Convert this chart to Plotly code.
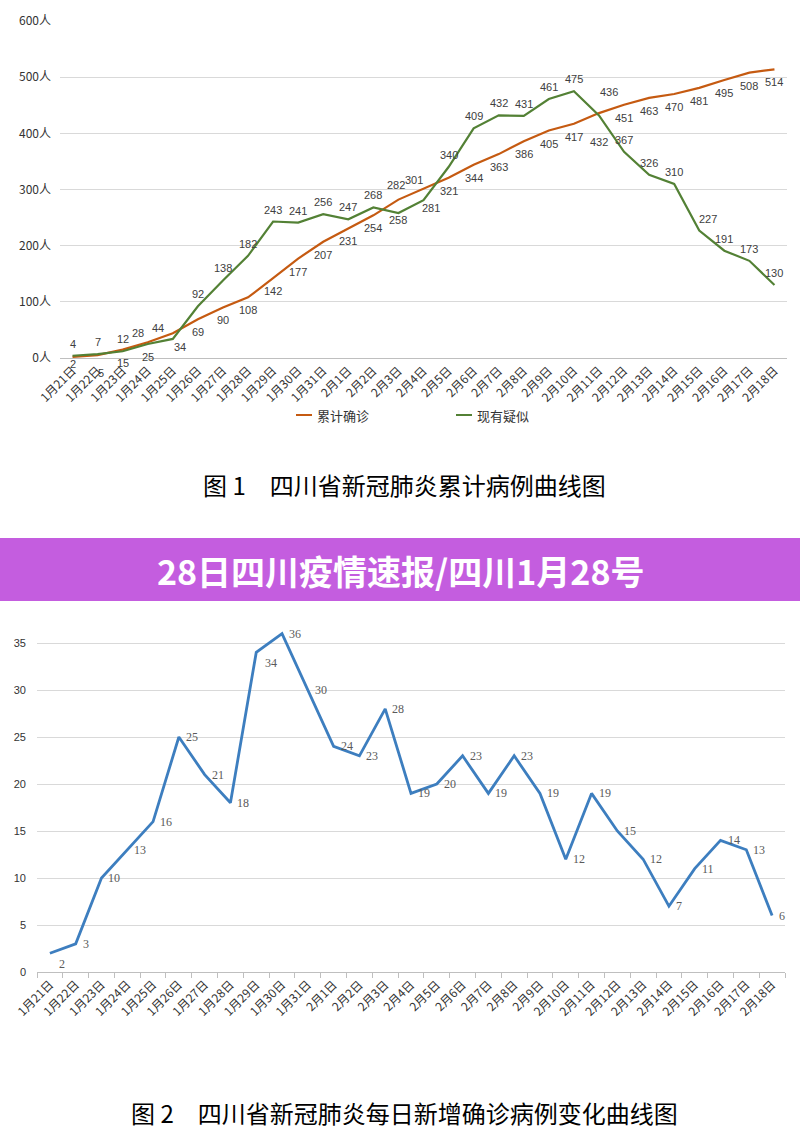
import plotly.graph_objects as go

# ---------------- data ----------------
dates = ["1月21日", "1月22日", "1月23日", "1月24日", "1月25日", "1月26日", "1月27日",
         "1月28日", "1月29日", "1月30日", "1月31日", "2月1日", "2月2日", "2月3日",
         "2月4日", "2月5日", "2月6日", "2月7日", "2月8日", "2月9日", "2月10日",
         "2月11日", "2月12日", "2月13日", "2月14日", "2月15日", "2月16日", "2月17日",
         "2月18日"]
cumulative = [2, 5, 15, 28, 44, 69, 90, 108, 142, 177, 207, 231, 254, 282, 301, 321,
              344, 363, 386, 405, 417, 436, 451, 463, 470, 481, 495, 508, 514]
suspected = [4, 7, 12, 25, 34, 92, 138, 182, 243, 241, 256, 247, 268, 258, 281, 340,
             409, 432, 431, 461, 475, 432, 367, 326, 310, 227, 191, 173, 130]
daily_new = [2, 3, 10, 13, 16, 25, 21, 18, 34, 36, 30, 24, 23, 28, 19, 20, 23, 19, 23,
             19, 12, 19, 15, 12, 7, 11, 14, 13, 6]
y1_ticks = [0, 100, 200, 300, 400, 500, 600]
y1_ticklabels = ["0人", "100人", "200人", "300人", "400人", "500人", "600人"]
y2_ticks = [0, 5, 10, 15, 20, 25, 30, 35, 40]
series1_name = "累计确诊"
series2_name = "现有疑似"
title1 = "图 1　四川省新冠肺炎累计病例曲线图"
title2 = "图 2　四川省新冠肺炎每日新增确诊病例变化曲线图"
banner_text = "28日四川疫情速报/四川1月28号"

# ---------------- label placement (style) ----------------
# offsets in screen pixels (dx right, dy down) for each placement code
OFFS = {"t": (0, -12), "b": (0, 13), "bs": (0, 7), "bb": (3, 18), "tl": (-10, -9),
        "tl2": (-15, -5), "tl3": (-2, -15), "tr": (9, -12), "tr2": (10, -21),
        "br": (7, 8), "b2": (0, 27)}
pos_cum = ["bs", "bb", "b", "tl", "tl2", "b", "b", "b", "b", "b", "b", "b", "b", "tl3", "tl",
           "b", "b", "b", "b", "b", "b", "tr2", "b", "b", "b", "b", "b", "b", "b"]
pos_sus = ["t", "t", "t", "b", "br", "t", "t", "t", "t", "t", "t", "t", "t", "bs", "br",
           "t", "t", "t", "t", "t", "t", "b2", "t", "t", "t", "tr", "t", "t", "t"]
pos_daily = ["br"] + ["r"] * 7 + ["br"] + ["r"] * 20

W, H = 800, 1141
def py(px):
    return 1 - px / H

ORANGE = "#c55a11"
GREEN = "#538135"
BLUE = "#3d7ebf"
GRID = "#d9d9d9"
CJK = "Noto Sans CJK SC"
SANS = "Liberation Sans, Arial"
SERIF = "Liberation Serif, Times New Roman, serif"

fig = go.Figure()

fig.add_trace(go.Scatter(
    x=dates, y=cumulative, mode="lines", name=series1_name,
    line=dict(color=ORANGE, width=2.2), xaxis="x", yaxis="y", showlegend=False))
fig.add_trace(go.Scatter(
    x=dates, y=suspected, mode="lines", name=series2_name,
    line=dict(color=GREEN, width=2.2), xaxis="x", yaxis="y", showlegend=False))
fig.add_trace(go.Scatter(
    x=dates, y=daily_new, mode="lines", name="每日新增确诊",
    line=dict(color=BLUE, width=2.8), xaxis="x2", yaxis="y2", showlegend=False))

# data labels, placed through the axes
for series, codes in ((cumulative, pos_cum), (suspected, pos_sus)):
    for d, v, c in zip(dates, series, codes):
        dx, dy = OFFS[c]
        fig.add_annotation(x=d, y=v, xref="x", yref="y", text=str(v), showarrow=False,
                           xanchor="center", yanchor="middle", xshift=dx, yshift=-dy,
                           font=dict(family=SANS, size=11, color="#404040"))
for d, v, c in zip(dates, daily_new, pos_daily):
    dy = 11 if c == "br" else 0
    dx = 7 if c == "br" else 5
    fig.add_annotation(x=d, y=v, xref="x2", yref="y2", text=str(v), showarrow=False,
                       xanchor="left", yanchor="middle", xshift=dx, yshift=-dy,
                       font=dict(family=SERIF, size=12, color="#5a5a5a"))

fig.update_layout(
    width=W, height=H, margin=dict(l=0, r=0, t=0, b=0, autoexpand=False),
    paper_bgcolor="white", plot_bgcolor="white",
    xaxis=dict(domain=[60 / W, 787 / W], anchor="y", type="category", automargin=False,
               categoryorder="array", categoryarray=dates, range=[-0.5, 28.5],
               tickangle=-45, tickfont=dict(family=CJK, size=12, color="#333333"),
               showgrid=False, showline=True, linecolor="#bfbfbf", linewidth=1,
               ticks="", zeroline=False),
    yaxis=dict(domain=[py(358), py(21)], anchor="x", range=[0, 600], automargin=False,
               tickvals=y1_ticks, ticktext=y1_ticklabels,
               tickfont=dict(family=CJK, size=12, color="#333333"),
               showgrid=True, gridcolor=GRID, gridwidth=1, zeroline=False,
               showline=False, ticks="", ticklabelstandoff=8),
    xaxis2=dict(domain=[37 / W, 785 / W], anchor="y2", type="category", automargin=False,
                categoryorder="array", categoryarray=dates, range=[-0.5, 28.5],
                tickangle=-45, tickfont=dict(family=CJK, size=12, color="#333333"),
                showgrid=False, showline=True, linecolor="#bfbfbf", linewidth=1,
                ticks="outside", tickson="boundaries", ticklen=5, tickcolor="#bfbfbf",
                zeroline=False),
    yaxis2=dict(domain=[py(972), py(596)], anchor="x2", range=[0, 40], automargin=False,
                tickvals=y2_ticks, tickfont=dict(family=SANS, size=11, color="#333333"),
                showgrid=True, gridcolor=GRID, gridwidth=1, zeroline=False,
                showline=False, ticks="", ticklabelstandoff=10),
)

# manual legend for chart 1
legend_items = [(296, 312, ORANGE, series1_name), (456, 472, GREEN, series2_name)]
for x0, x1, col, name in legend_items:
    fig.add_shape(type="line", xref="paper", yref="paper", x0=x0 / W, x1=x1 / W,
                  y0=py(415), y1=py(415), line=dict(color=col, width=2))
    fig.add_annotation(text=name, xref="paper", yref="paper", x=(x1 + 3) / W, y=py(415),
                       xanchor="left", yanchor="middle", showarrow=False,
                       font=dict(family=CJK, size=13, color="#333333"))

# captions
fig.add_annotation(text=title1, xref="paper", yref="paper", x=404 / W, y=py(485),
                   xanchor="center", yanchor="middle", showarrow=False,
                   font=dict(family=CJK, size=24, color="#000000"))
fig.add_annotation(text=title2, xref="paper", yref="paper", x=404 / W, y=py(1112),
                   xanchor="center", yanchor="middle", showarrow=False,
                   font=dict(family=CJK, size=24, color="#000000"))

# banner
fig.add_shape(type="rect", xref="paper", yref="paper", x0=0, x1=1, y0=py(601), y1=py(538),
              fillcolor="#c45ddf", line=dict(width=0), layer="above")
fig.add_annotation(text="<b>" + banner_text + "</b>", xref="paper", yref="paper",
                   x=400 / W, y=py(570), xanchor="center", yanchor="middle", showarrow=False,
                   font=dict(family=CJK, size=34, color="white"))

fig.write_html("out.html")
